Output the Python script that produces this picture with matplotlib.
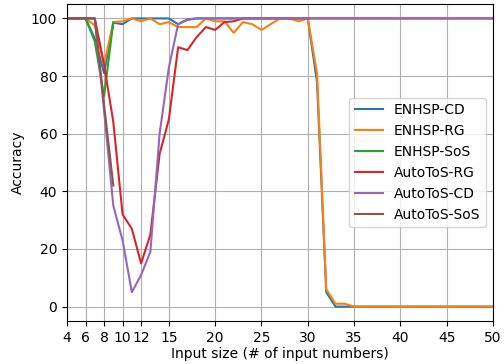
import numpy as np
import matplotlib
matplotlib.use("Agg")
import matplotlib.pyplot as plt

x_full = list(range(4, 51))
x_short = list(range(4, 10))

enhsp_cd = [100, 100, 100, 93, 81, 98.5, 98, 100, 100, 100, 100, 100, 98, 99.5, 100,
            100, 100, 100, 100, 100, 100, 100, 100, 100, 100, 100, 100, 78, 5, 0, 0, 0] + [0] * 15
enhsp_rg = [100, 100, 100, 97.5, 84, 98.7, 99, 100, 99, 100, 98, 98.7, 97, 97, 97,
            100, 99, 99, 95, 98.7, 98, 96, 98, 100, 100, 99, 100, 81, 6, 1, 1, 0] + [0] * 15
enhsp_sos = [100, 100, 100, 92, 73, 98.7]
autotos_rg = [100, 100, 100, 100, 84, 64, 32, 27, 15, 25, 53, 65, 90, 89, 93.5,
              97, 96, 98.7, 99, 100] + [100] * 27
autotos_cd = [100, 100, 100, 100, 68, 35, 23, 5, 11, 19, 60, 83, 98, 99.7] + [100] * 33
autotos_sos = [100, 100, 100, 100, 70, 42]

series = [
    ("ENHSP-CD", x_full, enhsp_cd),
    ("ENHSP-RG", x_full, enhsp_rg),
    ("ENHSP-SoS", x_short, enhsp_sos),
    ("AutoToS-RG", x_full, autotos_rg),
    ("AutoToS-CD", x_full, autotos_cd),
    ("AutoToS-SoS", x_short, autotos_sos),
]
colors = ["#1f77b4", "#ff7f0e", "#2ca02c", "#d62728", "#9467bd", "#8c564b"]

xticks = [4, 6, 8, 10, 12, 15, 20, 25, 30, 35, 40, 45, 50]

fig = plt.figure(figsize=(5.04, 3.64), dpi=100)
ax = fig.add_axes([0.133, 0.118, 0.845, 0.871])
for (name, xs, ys), c in zip(series, colors):
    ax.plot(xs, ys, label=name, color=c, linewidth=1.5)
ax.set_xlim(4, 50)
ax.set_ylim(-5, 105)
ax.set_xticks(xticks)
ax.set_yticks([0, 20, 40, 60, 80, 100])
ax.grid(True)
ax.set_xlabel("Input size (# of input numbers)", labelpad=1.5)
ax.set_ylabel("Accuracy")
ax.legend(loc="center right")
fig.savefig("out.png", dpi=100)
